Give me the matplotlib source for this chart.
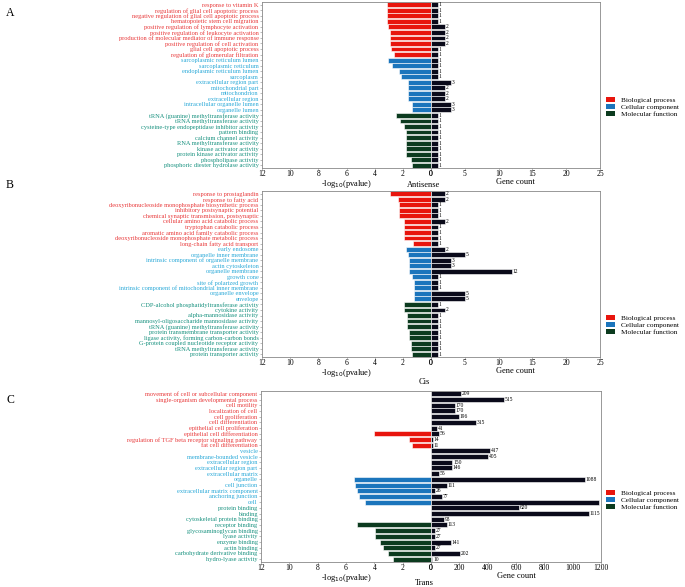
import matplotlib.pyplot as plt
import numpy as np
from matplotlib.patches import Patch

plt.rcParams['font.family'] = ['Liberation Serif', 'DejaVu Serif']

# category per row: B = biological process, C = cellular component, M = molecular function
groups = ['B'] * 10 + ['C'] * 10 + ['M'] * 10

# ---- panel A: Antisense
terms_a = [
    "response to vitamin K", "regulation of glial cell apoptotic process",
    "negative regulation of glial cell apoptotic process", "hematopoietic stem cell migration",
    "positive regulation of lymphocyte activation", "positive regulation of leukocyte activation",
    "production of molecular mediator of immune response", "positive regulation of cell activation",
    "glial cell apoptotic process", "regulation of glomerular filtration",
    "sarcoplasmic reticulum lumen", "sarcoplasmic reticulum", "endoplasmic reticulum lumen",
    "sarcoplasm", "extracellular region part", "mitochondrial part", "mitochondrion",
    "extracellular region", "intracellular organelle lumen", "organelle lumen",
    "tRNA (guanine) methyltransferase activity", "tRNA methyltransferase activity",
    "cysteine-type endopeptidase inhibitor activity", "pattern binding",
    "calcium channel activity", "RNA methyltransferase activity", "kinase activator activity",
    "protein kinase activator activity", "phospholipase activity",
    "phosphoric diester hydrolase activity",
]
logp_a = [3.1, 3.1, 3.1, 3.1, 3.05, 2.88, 2.88, 2.88, 2.83, 2.64,
          3.07, 2.76, 2.28, 2.16, 1.63, 1.63, 1.63, 1.63, 1.32, 1.32,
          2.45, 2.2, 1.92, 1.8, 1.8, 1.8, 1.8, 1.8, 1.44, 1.32]
count_a = [1, 1, 1, 1, 2, 2, 2, 2, 1, 1,
           1, 1, 1, 1, 3, 2, 2, 2, 3, 3,
           1, 1, 1, 1, 1, 1, 1, 1, 1, 1]

# ---- panel B: Cis
terms_b = [
    "response to prostaglandin", "response to fatty acid",
    "deoxyribonucleoside monophosphate biosynthetic process", "inhibitory postsynaptic potential",
    "chemical synaptic transmission, postsynaptic", "cellular amino acid catabolic process",
    "tryptophan catabolic process", "aromatic amino acid family catabolic process",
    "deoxyribonucleoside monophosphate metabolic process", "long-chain fatty acid transport",
    "early endosome", "organelle inner membrane", "intrinsic component of organelle membrane",
    "actin cytoskeleton", "organelle membrane", "growth cone", "site of polarized growth",
    "intrinsic component of mitochondrial inner membrane", "organelle envelope", "envelope",
    "CDP-alcohol phosphatidyltransferase activity", "cytokine activity",
    "alpha-mannosidase activity", "mannosyl-oligosaccharide mannosidase activity",
    "tRNA (guanine) methyltransferase activity", "protein transmembrane transporter activity",
    "ligase activity, forming carbon-carbon bonds", "G-protein coupled nucleotide receptor activity",
    "tRNA methyltransferase activity", "protein transporter activity",
]
logp_b = [2.94, 2.35, 2.28, 2.28, 2.24, 1.95, 1.95, 1.95, 1.95, 1.29,
          1.79, 1.6, 1.55, 1.53, 1.53, 1.36, 1.2, 1.2, 1.2, 1.2,
          1.95, 1.9, 1.67, 1.67, 1.67, 1.55, 1.55, 1.44, 1.44, 1.32]
count_b = [2, 2, 1, 1, 1, 2, 1, 1, 1, 1,
           2, 5, 3, 3, 12, 1, 1, 1, 5, 5,
           1, 2, 1, 1, 1, 1, 1, 1, 1, 1]

# ---- panel C: Trans
terms_c = [
    "movement of cell or subcellular component", "single-organism developmental process",
    "cell motility", "localization of cell", "cell proliferation", "cell differentiation",
    "epithelial cell proliferation", "epithelial cell differentiation",
    "regulation of TGF beta receptor signaling pathway", "fat cell differentiation",
    "vesicle", "membrane-bounded vesicle", "extracellular region", "extracellular region part",
    "extracellular matrix", "organelle", "cell junction", "extracellular matrix component",
    "anchoring junction", "cell",
    "protein binding", "binding", "cytoskeletal protein binding", "receptor binding",
    "glycosaminoglycan binding", "lyase activity", "enzyme binding", "actin binding",
    "carbohydrate derivative binding", "hydro-lyase activity",
]
logp_c = [0, 0, 0, 0, 0, 0, 0, 4.05, 1.58, 1.34,
          0, 0, 0, 0, 0, 5.41, 5.34, 5.25, 5.1, 4.64,
          0, 0, 0, 5.25, 3.95, 3.95, 3.6, 3.36, 3.06, 2.7]
count_c = [209, 515, 170, 170, 196, 315, 41, 56, 14, 11,
           417, 405, 150, 146, 55, 1088, 111, 26, 77, 1188,
           620, 1115, 93, 113, 27, 27, 141, 27, 202, 10]

bar_col = {'B': '#e8150d', 'C': '#1b75bc', 'M': '#0c3b1f'}
txt_col = {'B': '#e8393a', 'C': '#2aa9d8', 'M': '#17917f'}
count_col = '#0a0a1a'
spine_col = '#888888'

fig = plt.figure(figsize=(6.85, 5.87), dpi=100)
W, H = 685, 587


def box(x0, x1, ytop, ybot):
    return [x0 / W, 1 - ybot / H, (x1 - x0) / W, (ybot - ytop) / H]


def panel(terms, logp, counts, cmax, cticks, ytop, ybot, title, title_y, letter, letter_y,
          xl=262, xm=431, xr=600):
    n = len(terms)
    y = np.arange(n)
    axl = fig.add_axes(box(xl, xm, ytop, ybot))
    axr = fig.add_axes(box(xm, xr, ytop, ybot))

    axl.barh(y, logp, height=0.88, color=[bar_col[g] for g in groups],
             edgecolor='white', linewidth=0.4)
    axl.set_xlim(12, 0)
    axl.set_ylim(n - 0.5, -0.5)
    axl.set_yticks(y)
    axl.set_yticklabels(terms, fontsize=4.6)
    for lab, g in zip(axl.get_yticklabels(), groups):
        lab.set_color(txt_col[g])
    axl.set_xticks([12, 10, 8, 6, 4, 2, 0])
    axl.tick_params(axis='y', length=1.5, width=0.4, pad=1, color=spine_col)
    axl.tick_params(axis='x', length=1.2, width=0.4, pad=0.5, labelsize=5.5, color=spine_col)
    axl.set_xlabel('-log$_{10}$(pvalue)', fontsize=6, labelpad=0)
    axl.spines['right'].set_visible(False)

    axr.barh(y, counts, height=0.88, color=count_col, edgecolor='white', linewidth=0.4)
    axr.set_xlim(0, cmax)
    axr.set_ylim(n - 0.5, -0.5)
    axr.set_yticks([])
    axr.set_xticks(cticks)
    axr.tick_params(axis='x', length=1.2, width=0.4, pad=0.5, labelsize=5.5, color=spine_col)
    axr.set_xlabel('Gene count', fontsize=6, labelpad=0)
    axr.spines['left'].set_visible(False)
    for yi, c in zip(y, counts):
        axr.text(c + cmax * 0.005, yi, str(c), fontsize=4.0, va='center', ha='left',
                 clip_on=True)

    for ax in (axl, axr):
        for s in ax.spines.values():
            s.set_color(spine_col)
            s.set_linewidth(0.6)

    fig.text(424 / W, 1 - title_y / H, title, fontsize=6, ha='center', va='center')
    fig.text(6 / W, 1 - letter_y / H, letter, fontsize=8.5, ha='left', va='center')


panel(terms_a, logp_a, count_a, 25, [0, 5, 10, 15, 20, 25], 2, 168, 'Antisense', 185, 'A', 13)
panel(terms_b, logp_b, count_b, 25, [0, 5, 10, 15, 20, 25], 191, 357, 'Cis', 382, 'B', 185)
panel(terms_c, logp_c, count_c, 1200, [0, 200, 400, 600, 800, 1000, 1200], 391, 562,
      'Trans', 583, 'C', 400, xl=261, xr=601)

handles = [Patch(facecolor=bar_col['B'], label='Biological process'),
           Patch(facecolor=bar_col['C'], label='Cellular component'),
           Patch(facecolor=bar_col['M'], label='Molecular function')]
for ytop in (97, 315, 490):
    fig.legend(handles=handles, loc='upper left', bbox_to_anchor=(606 / W, 1 - ytop / H),
               frameon=False, fontsize=5.2, handlelength=1.3, handleheight=0.7,
               labelspacing=0.1, handletextpad=0.8, borderaxespad=0, borderpad=0)

fig.savefig('out.png', dpi=100)
